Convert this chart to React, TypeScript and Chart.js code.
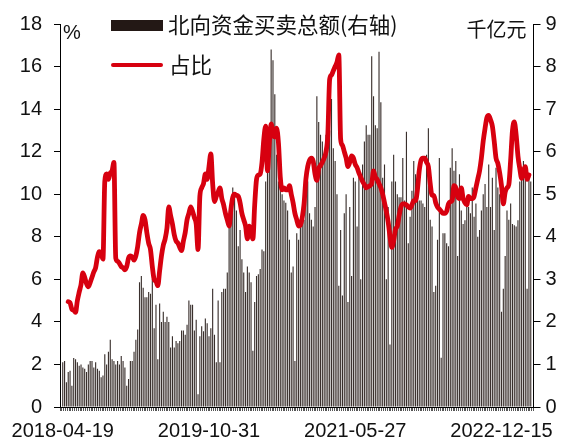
import React, { useEffect, useRef } from 'react';
import { Chart, registerables } from 'chart.js';

Chart.register(...registerables);

// Weekly categories (one empty week of padding at each end)
const START_DATE = '2018-04-12';
const X_TICK_LABELS = ['2018-04-19', '2019-10-31', '2021-05-27', '2022-12-15'];
const X_TICK_INDEXES = [1, 81, 161, 241];

// 北向资金买卖总额 (千亿元, right axis)
const TURNOVER: (number | null)[] = [
  null,
  1.05, 1.08, 0.58, 0.82, 0.85, 0.5, 1.15, 1.12, 1.05, 0.97,
  1.0, 0.93, 0.9, 0.82, 1.0, 1.08, 1.08, 0.93, 1.05, 0.9,
  0.85, 0.7, 0.74, 1.24, 1.0, 1.3, 1.58, 1.12, 1.08, 1.0,
  1.08, 1.0, 1.2, 1.08, 0.93, 0.5, 0.66, 1.08, 1.08, 1.3,
  1.58, 1.82, 2.93, 3.08, 2.8, 2.58, 2.58, 2.7, 2.66, 3.0,
  1.85, 2.4, 1.12, 2.43, 2.0, 2.24, 2.0, 2.12, 2.0, 1.4,
  1.66, 1.4, 1.55, 1.5, 1.55, 1.8, 1.8, 1.7, 1.93, 2.5,
  2.4, 2.4, 1.8, 2.05, 0.3, 1.66, 1.9, 1.78, 2.08, 1.97,
  1.66, 1.85, 2.78, 1.7, 1.05, 2.5, 1.05, 2.7, 2.78, 2.78,
  3.16, 4.47, 4.7, 5.16, 5.05, 4.62, 3.78, 4.16, 3.47, 3.16,
  2.7, 3.3,
  3.16, 2.93, 1.32, 2.47, 3.08, 3.12, 3.24, 3.7, 3.66, 5.3,
  5.78, 6.24, 8.4, 8.15, 7.35, 5.93, 5.3, 5.16, 5.0, 4.85,
  4.8, 4.62, 3.93, 3.16, 3.3, 1.08, 4.08, 3.93, 4.4, 4.47,
  4.4, 5.47, 5.3, 4.55, 4.4, 4.24, 4.7, 7.3, 6.7, 6.4,
  6.24, 5.93, 6.4, 6.62, 6.5, 7.24, 6.08, 5.78, 5.0, 2.85,
  4.16, 2.62,
  4.55, 5.0, 2.47, 4.7, 3.08, 5.39, 5.3, 4.24, 5.47, 3.0,
  5.7, 6.24, 6.62, 6.4, 6.4, 8.24, 7.3, 6.62, 6.55, 8.35,
  7.16, 5.39, 5.7, 3.0, 4.7, 1.47, 5.3, 5.93, 5.3, 5.0,
  4.93, 4.93, 5.85, 4.85, 6.47, 3.85, 4.47, 5.08, 5.78, 5.47,
  5.3, 4.85, 4.85, 4.78, 4.7, 5.93, 6.55, 4.4, 4.24, 2.7,
  2.85, 3.93,
  5.85, 1.16, 4.08, 4.08, 3.85, 3.78, 5.62, 6.08, 5.55, 5.78,
  3.55, 5.47, 4.62, 4.3, 4.39, 4.93, 4.7, 4.55, 5.16, 4.47,
  4.78, 4.0, 4.16, 4.62, 5.0, 5.24, 4.7, 5.7, 4.7, 5.39,
  4.16, 5.62, 5.16, 5.0, 2.24, 2.78, 3.55, 4.62, 4.4, 4.78,
  4.3, 4.27, 4.24, 4.39, 5.3, 5.55, 5.78, 5.55, 2.78, 5.39,
  5.3,
  null,
];

// 占比 (%, left axis)
const SHARE: (number | null)[] = [
  null, null, null, null, 4.95, 4.9, 4.6, 4.55, 4.45, 5.0,
  5.4, 5.75, 6.3, 6.1, 5.8, 5.65, 5.85, 6.1, 6.35, 6.55,
  7.05, 7.3, 7.2, 6.95, 10.6, 10.95, 10.7, 11.0, 11.1, 11.5,
  7.0, 6.85, 6.75, 6.6, 6.55, 6.45, 6.6, 7.0, 7.1, 7.05,
  6.9, 7.1, 7.55, 8.2, 8.6, 9.0, 8.8, 8.2, 7.7, 7.4,
  6.6, 6.0, 5.9, 5.7, 6.4, 7.1, 7.6, 7.9, 8.4, 9.4,
  9.0, 8.6, 8.1, 7.8, 7.7, 7.5, 7.35, 7.8, 8.2, 8.8,
  9.1, 9.4, 9.2, 8.9, 8.6, 7.4, 9.9, 10.3, 10.5, 10.95,
  10.7, 11.3, 11.9, 10.5, 9.65, 9.9, 10.1, 10.3, 9.8, 9.5,
  9.1, 8.8, 8.5, 9.3, 9.85, 10.0, 9.95, 9.9, 9.6, 9.1,
  8.8, 8.5, 7.9, 8.5, 8.3, 7.9, 9.5, 10.7, 10.9, 10.95,
  11.5, 12.6, 13.2, 11.1, 12.4, 13.3, 12.8, 12.7, 13.1, 12.4,
  10.8, 10.2, 10.3, 10.2, 10.2, 10.4, 10.0, 9.6, 9.1, 8.8,
  8.5, 8.55, 8.9, 9.55, 10.7, 11.3, 11.6, 11.7, 11.55, 10.95,
  10.65, 11.2, 11.35, 11.5, 11.7, 12.0, 12.8, 15.4, 15.6, 15.8,
  16.0, 16.2, 16.55, 12.6, 12.3, 12.0, 11.7, 11.3, 11.5, 11.8,
  11.7, 11.4, 11.25, 11.0, 10.8, 10.6, 10.45, 10.3, 10.35, 10.4,
  10.5, 11.1, 10.8, 10.7, 10.5, 10.3, 10.0, 9.6, 9.2, 8.7,
  8.0, 7.5, 7.8, 8.35, 8.5, 9.0, 9.4, 9.55, 9.55, 9.5,
  9.4, 9.35, 9.5, 9.7, 9.7, 10.2, 11.1, 11.6, 11.7, 11.7,
  11.5, 11.3, 10.5, 9.95, 9.95, 9.6, 9.4, 9.3, 9.2, 9.1,
  9.1, 9.2, 9.55, 9.65, 9.7, 10.4, 10.3, 9.9, 9.8, 10.3,
  9.8, 9.6, 9.5, 9.9, 9.8, 9.8, 9.9, 10.3, 10.7, 11.1,
  11.7, 12.5, 13.1, 13.6, 13.7, 13.5, 13.2, 12.5, 11.7, 11.45,
  11.0, 10.4, 9.55, 10.1, 10.3, 10.45, 11.6, 13.0, 13.4, 12.8,
  11.8, 11.2, 10.75, 11.1, 11.3, 10.7, 10.9, null, null,
];

const LEFT_TICKS = [0, 18, 2];
const RIGHT_TICKS = [0, 9, 1];

const RED = '#D7000F';
const BAR_COLOR = '#3a302d';
const TEXT_COLOR = '#111111';
const NUM_FONT = '"Liberation Sans", Arial, sans-serif';
const CJK_FONT = '"Noto Sans CJK SC", "Noto Sans", sans-serif';

function buildCategories(n: number): string[] {
  const out: string[] = [];
  const d0 = new Date(START_DATE + 'T00:00:00Z').getTime();
  for (let i = 0; i < n; i++) {
    out.push(new Date(d0 + i * 7 * 86400000).toISOString().slice(0, 10));
  }
  return out;
}

const overlayPlugin = {
  id: 'overlayText',
  afterDraw(chart: any) {
    const { ctx, chartArea } = chart;
    const L = chartArea.left;
    const R = chartArea.right;
    ctx.save();
    // legend: bars
    ctx.fillStyle = '#231815';
    ctx.fillRect(L + 51, 20, 52, 11);
    // legend: line
    ctx.strokeStyle = RED;
    ctx.lineWidth = 4;
    ctx.lineCap = 'round';
    ctx.beginPath();
    ctx.moveTo(L + 53, 65);
    ctx.lineTo(L + 101, 65);
    ctx.stroke();
    ctx.fillStyle = TEXT_COLOR;
    ctx.font = '21.5px ' + CJK_FONT;
    ctx.textBaseline = 'middle';
    ctx.textAlign = 'left';
    ctx.fillText('北向资金买卖总额(右轴)', L + 108, 25);
    ctx.fillText('占比', L + 109, 65);
    // units
    ctx.font = '20px ' + NUM_FONT;
    ctx.textBaseline = 'alphabetic';
    ctx.fillText('%', L + 3, 39);
    ctx.font = '20px ' + CJK_FONT;
    ctx.textAlign = 'right';
    ctx.textBaseline = 'middle';
    ctx.fillText('千亿元', R - 7, 29);
    ctx.restore();
  },
};

export default function App() {
  const ref = useRef<HTMLCanvasElement>(null);

  useEffect(() => {
    document.body.style.margin = '0';
    const labels = buildCategories(TURNOVER.length);
    const chart = new Chart(ref.current as HTMLCanvasElement, {
      type: 'bar',
      data: {
        labels,
        datasets: [
          {
            type: 'line',
            label: '占比',
            data: SHARE,
            yAxisID: 'y',
            borderColor: RED,
            backgroundColor: RED,
            borderWidth: 4.8,
            pointRadius: 0,
            cubicInterpolationMode: 'monotone',
            borderCapStyle: 'round',
            borderJoinStyle: 'round',
            order: 1,
          } as any,
          {
            type: 'bar',
            label: '北向资金买卖总额(右轴)',
            data: TURNOVER,
            yAxisID: 'y1',
            backgroundColor: BAR_COLOR,
            barPercentage: 0.62,
            categoryPercentage: 1.0,
            order: 2,
          } as any,
        ],
      },
      options: {
        animation: false,
        responsive: true,
        maintainAspectRatio: false,
        layout: { padding: { top: 17, left: 0, right: 0, bottom: 0 } },
        plugins: {
          legend: { display: false },
          tooltip: { enabled: false },
        },
        scales: {
          x: {
            offset: true,
            border: { display: true, color: '#000', width: 1 },
            grid: {
              display: true,
              drawOnChartArea: false,
              drawTicks: true,
              tickLength: 4,
              color: '#555',
              lineWidth: 1,
            },
            ticks: {
              autoSkip: false,
              maxRotation: 0,
              minRotation: 0,
              padding: 8,
              color: TEXT_COLOR,
              font: { family: NUM_FONT, size: 20 },
              callback: (_v: any, index: number) => {
                const k = X_TICK_INDEXES.indexOf(index);
                return k >= 0 ? X_TICK_LABELS[k] : '';
              },
            },
            afterFit: (scale: any) => {
              scale.height = 36;
            },
          },
          y: {
            position: 'left',
            min: LEFT_TICKS[0],
            max: LEFT_TICKS[1],
            border: { display: true, color: '#000', width: 1 },
            grid: { drawOnChartArea: false, drawTicks: true, tickLength: 6, color: '#000' },
            ticks: {
              stepSize: LEFT_TICKS[2],
              padding: 12,
              color: TEXT_COLOR,
              font: { family: NUM_FONT, size: 20 },
            },
            afterFit: (scale: any) => {
              scale.width = 60;
            },
          },
          y1: {
            position: 'right',
            min: RIGHT_TICKS[0],
            max: RIGHT_TICKS[1],
            border: { display: true, color: '#000', width: 1 },
            grid: { drawOnChartArea: false, drawTicks: true, tickLength: 7, color: '#000' },
            ticks: {
              stepSize: RIGHT_TICKS[2],
              padding: 5,
              color: TEXT_COLOR,
              font: { family: NUM_FONT, size: 20 },
            },
            afterFit: (scale: any) => {
              scale.width = 34.5;
            },
          },
        },
      },
      plugins: [overlayPlugin],
    });
    return () => chart.destroy();
  }, []);

  return (
    <div style={{ position: 'relative', width: 568, height: 443 }}>
      <canvas ref={ref} />
    </div>
  );
}
